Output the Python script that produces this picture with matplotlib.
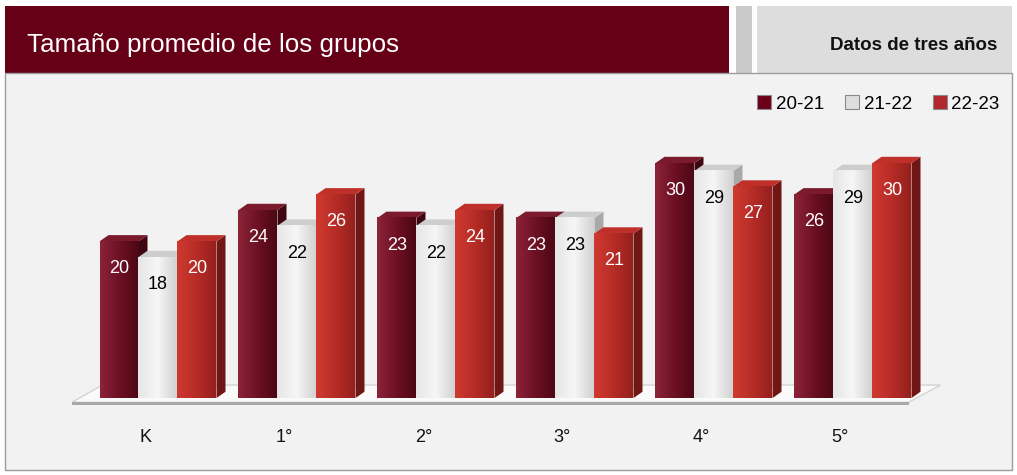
import numpy as np
import matplotlib
matplotlib.use('Agg')
import matplotlib.pyplot as plt
from matplotlib.patches import Rectangle, Polygon, Patch
from matplotlib.colors import LinearSegmentedColormap

# data
grades = ['K', '1°', '2°', '3°', '4°', '5°']
years = ['20-21', '21-22', '22-23']
size_2021 = [20, 24, 23, 23, 30, 26]
size_2122 = [18, 22, 22, 23, 29, 29]
size_2223 = [20, 26, 24, 21, 27, 30]
series = [size_2021, size_2122, size_2223]

# styles per series: front gradient (left -> right), side, top, label colour, legend colour
styles = [
    dict(front=['#8c2438', '#6e1024', '#4c0814'], side='#3e0610', top='#7a1a2c', txt='white', leg='#6b0018'),
    dict(front=['#e6e6e6', '#f6f6f6', '#d2d2d2'], side='#a9a9a9', top='#cdcdcd', txt='black', leg='#dedede'),
    dict(front=['#cf3a30', '#b72c27', '#95201d'], side='#701614', top='#c0302b', txt='white', leg='#b3282d'),
]

W, H = 1017, 475
fig = plt.figure(figsize=(W / 100, H / 100), dpi=100)


def px_rect(x0, y0, x1, y1, **kw):
    # rectangle given in image pixels (y downwards)
    r = Rectangle((x0 / W, 1 - y1 / H), (x1 - x0) / W, (y1 - y0) / H,
                  transform=fig.transFigure, zorder=-1, **kw)
    fig.patches.append(r)


# header and panel
px_rect(5, 6, 729, 73, facecolor='#650016', edgecolor='none')
px_rect(736, 6, 752, 73, facecolor='#c9c9c9', edgecolor='none')
px_rect(757, 6, 1012, 73, facecolor='#dddddd', edgecolor='none')
px_rect(5, 73, 1012, 470, facecolor='#f2f2f2', edgecolor='#9c9c9c', linewidth=1)

fig.text(27 / W, 1 - 45 / H, 'Tamaño promedio de los grupos', color='white',
         fontsize=18.7, va='center', ha='left',
         family=['Liberation Sans Narrow', 'Liberation Sans'])
fig.text(997 / W, 1 - 46 / H, 'Datos de tres años', color='#111111',
         fontsize=13.5, fontweight='bold', va='center', ha='right',
         family=['Liberation Sans', 'DejaVu Sans'])

# main axes: 1 x-unit = 139 px, 1 y-unit = 7.83 px
ax = fig.add_axes([5 / W, (H - 405) / H, 1007 / W, 332 / H])
ax.patch.set_alpha(0)
for s in ax.spines.values():
    s.set_visible(False)

bw = 39 / 139
dx, dy = 9 / 139, 0.8

# floor
ax.add_patch(Polygon([(-0.62, -0.55), (5.40, -0.55), (5.63, 1.66), (-0.40, 1.66)],
                     closed=True, facecolor='#fafafa', edgecolor='#d4d4d4', lw=1, zorder=1))
ax.add_patch(Rectangle((-0.62, -0.89), 6.02, 0.36, facecolor='#a8a8a8',
                       edgecolor='none', zorder=1))

grad = np.linspace(0, 1, 64).reshape(1, -1)
z = 2
for i in range(len(grades)):
    for j, vals in enumerate(series):
        v = vals[i]
        st = styles[j]
        x0 = i + (j - 1.5) * bw
        x1 = x0 + bw
        # side face
        ax.add_patch(Polygon([(x1, 0), (x1 + dx, dy), (x1 + dx, v + dy), (x1, v)],
                             closed=True, facecolor=st['side'], edgecolor='none', zorder=z))
        # top face
        ax.add_patch(Polygon([(x0, v), (x1, v), (x1 + dx, v + dy), (x0 + dx, v + dy)],
                             closed=True, facecolor=st['top'], edgecolor='none', zorder=z))
        # front face with horizontal shading
        cm = LinearSegmentedColormap.from_list('b%d' % j, st['front'])
        ax.imshow(grad, extent=[x0, x1, 0, v], aspect='auto', cmap=cm,
                  interpolation='bilinear', zorder=z + 0.5)
        ax.text((x0 + x1) / 2, v - 3.5, str(v), color=st['txt'], fontsize=13,
                ha='center', va='center', zorder=z + 1,
                family=['Liberation Sans', 'DejaVu Sans'])
        z += 2

ax.set_xlim((5 - 158) / 139, (1012 - 158) / 139)
ax.set_ylim(-0.89, 41.5)
ax.set_yticks([])
ax.set_xticks(np.arange(len(grades)) - 0.09, grades,
              family=['Liberation Sans Narrow', 'Liberation Sans'], fontsize=13)
ax.tick_params(axis='x', length=0, pad=17, colors='#111111')

handles = [Patch(facecolor=st['leg'], edgecolor='#8a8a8a', lw=0.8) for st in styles]
fig.legend(handles, years, ncol=3, loc='center right',
           bbox_to_anchor=(1009 / W, 1 - 104 / H), frameon=False,
           handlelength=0.75, handleheight=0.75,
           handletextpad=0.25, columnspacing=1.1, borderpad=0,
           prop={'family': ['Liberation Sans', 'DejaVu Sans'], 'size': 13.5})

fig.savefig('out.png', dpi=100)
